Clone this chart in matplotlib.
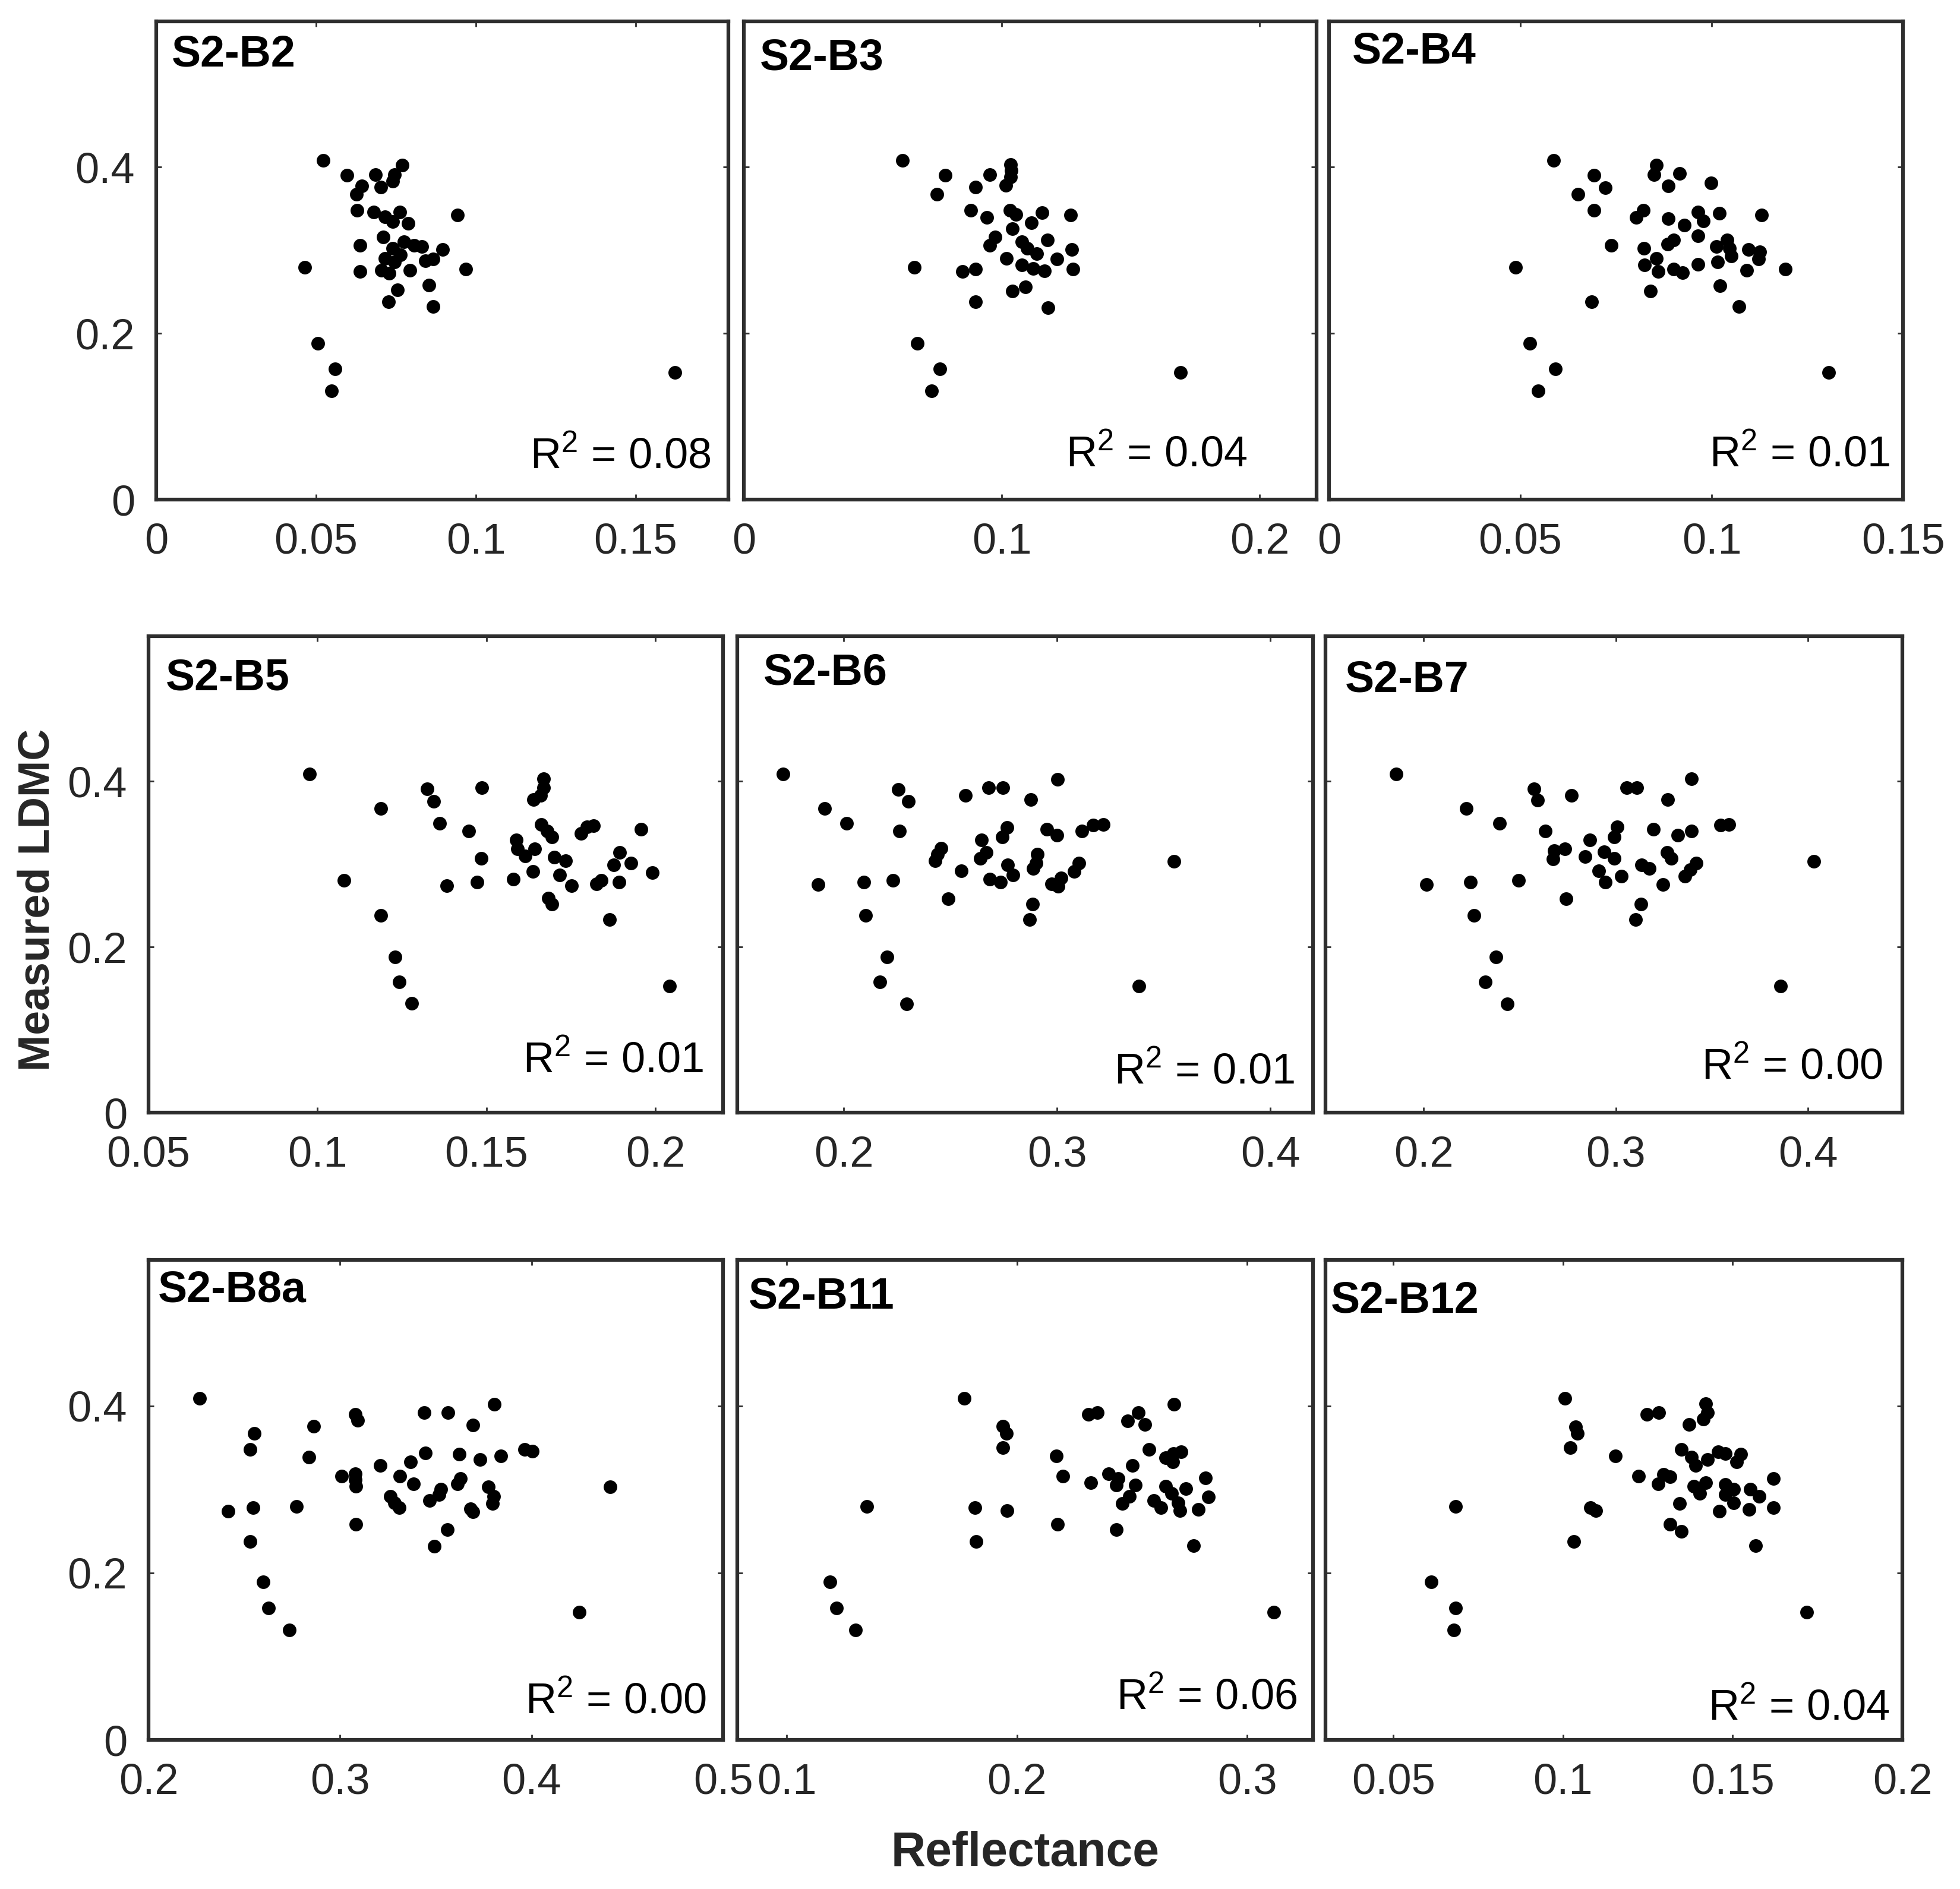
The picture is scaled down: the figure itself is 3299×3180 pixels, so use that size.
import matplotlib
matplotlib.use("Agg")
import matplotlib.pyplot as plt
from matplotlib.ticker import FuncFormatter

plt.rcParams['font.family'] = ['Liberation Sans', 'DejaVu Sans']
plt.rcParams['mathtext.fontset'] = 'custom'
plt.rcParams['mathtext.rm'] = 'Liberation Sans'
plt.rcParams['mathtext.it'] = 'Liberation Sans:italic'
plt.rcParams['mathtext.bf'] = 'Liberation Sans:bold'

# reflectance (x) and measured LDMC (y) per band
b2_x = [0.0522,0.0596,0.0686,0.0770,0.0746,0.0740,0.0644,0.0702,0.0626,0.0628,0.0680,0.0716,0.0762,0.0788,0.0942,
        0.0740,0.0710,0.0638,0.0776,0.0806,0.0830,0.0740,0.0896,0.0464,0.0638,0.0716,0.0746,0.0842,0.0866,0.0968,
        0.0704,0.0728,0.0794,0.0764,0.0854,0.0754,0.0726,0.0866,0.0506,0.0560,0.0548,0.1622]
b2_y = [0.408,0.390,0.391,0.402,0.391,0.383,0.377,0.376,0.367,0.348,0.346,0.340,0.346,0.332,0.342,
        0.334,0.316,0.306,0.310,0.306,0.304,0.302,0.301,0.279,0.274,0.290,0.286,0.287,0.289,0.277,
        0.276,0.272,0.276,0.294,0.258,0.252,0.238,0.232,0.188,0.157,0.131,0.153]

b3_x = [0.0615,0.0781,0.0953,0.1034,0.1036,0.1034,0.1015,0.0899,0.0749,0.0880,0.0942,0.1031,0.1055,0.1114,0.1155,
        0.1267,0.1041,0.0975,0.0953,0.1077,0.1177,0.1099,0.1136,0.1272,0.1019,0.1213,0.0661,0.0848,0.0899,0.1077,
        0.1121,0.1165,0.1276,0.1091,0.1041,0.0899,0.1180,0.0672,0.0761,0.0728,0.1693]
b3_y = [0.408,0.390,0.391,0.403,0.396,0.388,0.378,0.376,0.367,0.348,0.339,0.348,0.343,0.333,0.345,
        0.342,0.326,0.316,0.306,0.310,0.312,0.302,0.296,0.301,0.290,0.289,0.279,0.274,0.277,0.282,
        0.278,0.275,0.277,0.256,0.251,0.238,0.231,0.188,0.157,0.131,0.153]

b4_x = [0.0587,0.0692,0.0722,0.0651,0.0692,0.0855,0.0850,0.0916,0.0887,0.0998,0.0821,0.0803,0.0887,0.0964,0.0979,
        0.1020,0.1131,0.0929,0.0964,0.0900,0.0885,0.0737,0.0823,0.1040,0.1013,0.1047,0.1097,0.1126,0.1052,0.1123,
        0.0855,0.0825,0.1015,0.0964,0.0900,0.0924,0.0860,0.1092,0.1193,0.0487,0.1021,0.0840,0.0687,0.1072,0.0525,
        0.0592,0.0547,0.1306]
b4_y = [0.408,0.390,0.375,0.367,0.348,0.402,0.391,0.392,0.377,0.381,0.348,0.339,0.338,0.346,0.335,
        0.344,0.342,0.330,0.317,0.312,0.307,0.306,0.302,0.312,0.304,0.302,0.301,0.298,0.293,0.289,
        0.290,0.282,0.286,0.283,0.277,0.273,0.274,0.276,0.277,0.279,0.257,0.251,0.238,0.232,0.188,
        0.157,0.131,0.153]

b5_x = [0.0977,0.1324,0.1343,0.1486,0.1669,0.1669,0.1660,0.1640,0.1187,0.1362,0.1448,0.1662,0.1680,0.1694,0.1780,
        0.1797,0.1817,0.1957,0.1589,0.1591,0.1643,0.1614,0.1484,0.1700,0.1734,0.1637,0.1717,0.1894,0.1877,0.1928,
        0.1991,0.1840,0.1825,0.1892,0.1751,0.1579,0.1473,0.1382,0.1078,0.1683,0.1694,0.1865,0.1187,0.1229,0.1242,
        0.1279,0.2042]
b5_y = [0.409,0.391,0.376,0.392,0.403,0.392,0.383,0.378,0.367,0.349,0.340,0.348,0.340,0.333,0.337,
        0.345,0.346,0.342,0.329,0.318,0.318,0.310,0.307,0.308,0.304,0.291,0.287,0.314,0.299,0.301,
        0.290,0.280,0.276,0.278,0.274,0.282,0.278,0.274,0.280,0.259,0.252,0.233,0.238,0.188,0.158,
        0.132,0.153]

b6_x = [0.1715,0.1909,0.2012,0.2256,0.2302,0.2262,0.1879,0.2093,0.2230,0.2101,0.2203,0.2169,0.2294,0.2569,0.2680,
        0.2746,0.2877,0.3002,0.2457,0.2440,0.2427,0.2644,0.2667,0.2641,0.2765,0.2742,0.2952,0.3000,0.3116,0.3169,
        0.3217,0.2907,0.2902,0.2888,0.2769,0.2792,0.2733,0.2683,0.2550,0.2489,0.3103,0.3080,0.3018,0.2973,0.3005,
        0.3548,0.2884,0.2870,0.3383]
b6_y = [0.409,0.367,0.349,0.390,0.376,0.340,0.275,0.278,0.280,0.238,0.188,0.158,0.131,0.383,0.392,
        0.392,0.378,0.402,0.319,0.312,0.304,0.329,0.314,0.307,0.344,0.333,0.342,0.335,0.340,0.347,
        0.348,0.312,0.301,0.295,0.299,0.287,0.278,0.282,0.292,0.258,0.301,0.291,0.283,0.276,0.273,
        0.303,0.252,0.233,0.153]

b7_x = [0.1858,0.2575,0.2594,0.2770,0.3056,0.3108,0.3394,0.3270,0.2223,0.2395,0.2632,0.2865,0.3007,0.2993,0.3194,
        0.3323,0.3394,0.3546,0.3589,0.2681,0.2736,0.2673,0.2841,0.2940,0.2993,0.3265,0.3289,0.3135,0.3175,0.3418,
        0.3388,0.3358,0.2910,0.2944,0.3029,0.2016,0.2243,0.2494,0.3246,0.4030,0.2742,0.3131,0.3104,0.2263,0.2377,
        0.2322,0.2436,0.3856]
b7_y = [0.409,0.391,0.377,0.383,0.392,0.392,0.403,0.378,0.367,0.349,0.340,0.329,0.345,0.333,0.342,
        0.335,0.340,0.347,0.348,0.316,0.318,0.306,0.309,0.315,0.307,0.314,0.307,0.299,0.295,0.301,
        0.293,0.285,0.292,0.278,0.285,0.275,0.278,0.280,0.275,0.303,0.258,0.252,0.233,0.238,0.188,
        0.158,0.131,0.153]

b8a_x = [0.2266,0.2415,0.2545,0.2530,0.2553,0.2530,0.2598,0.2628,0.2736,0.2774,0.2839,0.2862,0.3079,0.3093,0.3008,
         0.3079,0.3079,0.3083,0.3083,0.3211,0.3313,0.3368,0.3384,0.3264,0.3285,0.3309,0.3439,0.3563,0.3445,0.3622,
         0.3695,0.3805,0.3730,0.3841,0.3963,0.4004,0.3628,0.3614,0.3526,0.3516,0.3467,0.3776,0.3801,0.3795,0.3683,
         0.3695,0.3561,0.3492,0.4411,0.4248]
b8a_y = [0.409,0.274,0.278,0.348,0.367,0.238,0.189,0.158,0.132,0.280,0.339,0.376,0.390,0.383,0.316,
         0.319,0.312,0.304,0.258,0.329,0.316,0.333,0.307,0.292,0.284,0.278,0.392,0.392,0.344,0.342,
         0.377,0.402,0.336,0.340,0.348,0.346,0.313,0.307,0.300,0.294,0.287,0.303,0.292,0.283,0.277,
         0.273,0.252,0.232,0.303,0.153]

b11_x = [0.1770,0.1349,0.1189,0.1217,0.1300,0.1938,0.1954,0.1938,0.1818,0.1958,0.1823,0.2172,0.2198,0.2177,0.2309,
         0.2350,0.2320,0.2526,0.2481,0.2556,0.2682,0.2572,0.2501,0.2646,0.2679,0.2712,0.2676,0.2399,0.2440,0.2432,
         0.2514,0.2489,0.2457,0.2432,0.2646,0.2671,0.2733,0.2819,0.2830,0.2593,0.2626,0.2700,0.2708,0.2786,0.2766,
         0.3115]
b11_y = [0.409,0.280,0.189,0.158,0.132,0.376,0.367,0.350,0.278,0.275,0.238,0.340,0.316,0.258,0.390,
         0.392,0.308,0.392,0.382,0.378,0.402,0.348,0.329,0.338,0.343,0.345,0.333,0.319,0.313,0.305,
         0.305,0.292,0.283,0.252,0.304,0.295,0.301,0.314,0.291,0.287,0.278,0.284,0.275,0.276,0.233,
         0.153]

b12_x = [0.1006,0.0611,0.0684,0.0678,0.0684,0.1037,0.1043,0.1022,0.1080,0.1096,0.1031,0.1154,0.1223,0.1248,0.1282,
         0.1280,0.1297,0.1315,0.1315,0.1348,0.1344,0.1371,0.1414,0.1420,0.1426,0.1348,0.1379,0.1391,0.1426,0.1458,
         0.1479,0.1523,0.1512,0.1385,0.1403,0.1420,0.1479,0.1503,0.1479,0.1503,0.1461,0.1552,0.1578,0.1549,0.1620,
         0.1620,0.1567,0.1719]
b12_y = [0.409,0.189,0.158,0.132,0.280,0.375,0.367,0.350,0.278,0.275,0.238,0.340,0.316,0.390,0.392,
         0.307,0.318,0.315,0.258,0.250,0.283,0.378,0.384,0.403,0.392,0.348,0.339,0.329,0.336,0.345,
         0.343,0.342,0.333,0.304,0.295,0.308,0.306,0.300,0.294,0.284,0.274,0.300,0.292,0.276,0.313,
         0.278,0.233,0.153]

band_names = ["S2-B2", "S2-B3", "S2-B4", "S2-B5", "S2-B6", "S2-B7", "S2-B8a", "S2-B11", "S2-B12"]
r2_values = ["0.08", "0.04", "0.01", "0.01", "0.01", "0.00", "0.00", "0.06", "0.04"]
x_data = [b2_x, b3_x, b4_x, b5_x, b6_x, b7_x, b8a_x, b11_x, b12_x]
y_data = [b2_y, b3_y, b4_y, b5_y, b6_y, b7_y, b8a_y, b11_y, b12_y]

x_limits = [(0, 0.179), (0, 0.222), (0, 0.15), (0.05, 0.22), (0.15, 0.42),
            (0.149, 0.449), (0.2, 0.5), (0.0786, 0.3285), (0.03, 0.2)]
x_ticks = [[0, 0.05, 0.1, 0.15], [0, 0.1, 0.2], [0, 0.05, 0.1, 0.15], [0.05, 0.1, 0.15, 0.2],
           [0.2, 0.3, 0.4], [0.2, 0.3, 0.4], [0.2, 0.3, 0.4, 0.5], [0.1, 0.2, 0.3],
           [0.05, 0.1, 0.15, 0.2]]
y_ticks = [0, 0.2, 0.4]
y_limits = (0, 0.575)

# panel boxes in pixels (left, top, right, bottom)
W, H = 3299, 3180
boxes = [(263, 36, 1226, 841), (1252, 36, 2216, 841), (2237, 36, 3203, 841),
         (250, 1071, 1217, 1873), (1241, 1071, 2210, 1873), (2231, 1071, 3202, 1873),
         (250, 2121, 1217, 2929), (1241, 2121, 2210, 2929), (2231, 2121, 3202, 2929)]
# text placement in axes fraction
title_pos = [(0.027, 0.906), (0.028, 0.899), (0.040, 0.913), (0.030, 0.887), (0.045, 0.899),
             (0.034, 0.883), (0.016, 0.913), (0.019, 0.899), (0.009, 0.891)]
r2_pos = [(0.970, 0.066), (0.879, 0.070), (0.977, 0.070), (0.966, 0.085), (0.968, 0.061),
          (0.966, 0.072), (0.971, 0.056), (0.973, 0.065), (0.978, 0.042)]

frame_color = '#2e2e2e'
fig = plt.figure(figsize=(W / 100, H / 100), dpi=100)

for i in range(9):
    l, t, r, b = boxes[i]
    ax = fig.add_axes([l / W, 1 - b / H, (r - l) / W, (b - t) / H])
    ax.plot(x_data[i], y_data[i], 'o', color='black', markersize=16.5, markeredgewidth=0)
    ax.set_xlim(x_limits[i])
    ax.set_ylim(y_limits)
    ax.set_xticks(x_ticks[i])
    ax.set_yticks(y_ticks)
    ax.xaxis.set_major_formatter(FuncFormatter(lambda v, p: f"{v:g}"))
    ax.yaxis.set_major_formatter(FuncFormatter(lambda v, p: f"{v:g}"))
    ax.tick_params(direction='in', length=6.5, width=2, color=frame_color,
                   top=True, right=True, labelsize=52, labelcolor='#262626')
    ax.tick_params(axis='x', pad=28)
    ax.tick_params(axis='y', pad=26)
    if i % 3 != 0:
        ax.tick_params(axis='y', labelleft=False)
    for s in ax.spines.values():
        s.set_linewidth(4.5)
        s.set_color(frame_color)

    ax.text(title_pos[i][0], title_pos[i][1], band_names[i], transform=ax.transAxes,
            ha='left', va='baseline', fontsize=53, fontweight='bold')
    ax.text(r2_pos[i][0], r2_pos[i][1], r'$\mathrm{R}^{2}$ = ' + r2_values[i],
            transform=ax.transAxes, ha='right', va='baseline', fontsize=52)

fig.text(63 / W, 1 - 1515 / H, 'Measured LDMC', rotation=90, ha='center', va='center',
         fontsize=53, fontweight='bold', color='#262626')
fig.text(1726 / W, 1 - 3120 / H, 'Reflectance', ha='center', va='center',
         fontsize=58, fontweight='bold', color='#262626')

fig.savefig('out.png', dpi=100, facecolor='white')
